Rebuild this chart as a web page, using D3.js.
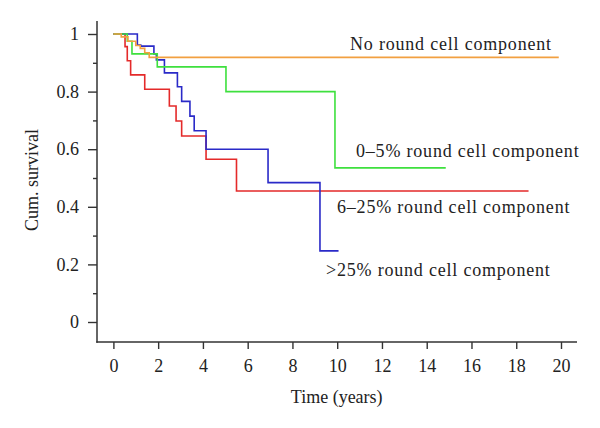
<!DOCTYPE html>
<html>
<head>
<meta charset="utf-8">
<script src="https://cdn.jsdelivr.net/npm/d3@7"></script>
<style>
  html, body { margin: 0; padding: 0; background: #fff; }
  svg { display: block; }
  text { font-family: "Liberation Serif", "Times New Roman", serif; fill: #222; }
</style>
</head>
<body>
<svg id="chart" width="600" height="428"></svg>
<script>
// ---- data ----
const seriesNames = [
  "No round cell component",
  "0\u20135% round cell component",
  "6\u201325% round cell component",
  ">25% round cell component"
];
// step times (years) and cumulative survival after each step
const orangeTimes = [0, 0.35, 0.65, 1.0, 1.2, 1.4, 1.6];
const orangeSurv  = [1, 0.99, 0.975, 0.96, 0.95, 0.935, 0.919];
const orangeEnd   = 19.9;

const greenTimes = [0, 0.62, 0.83, 1.96, 5.03, 9.9];
const greenSurv  = [1, 0.975, 0.931, 0.886, 0.800, 0.535];
const greenEnd   = 14.85;

const redTimes = [0, 0.52, 0.62, 0.77, 1.40, 2.50, 2.80, 3.05, 4.14, 5.50];
const redSurv  = [1, 0.956, 0.907, 0.858, 0.808, 0.750, 0.698, 0.646, 0.565, 0.455];
const redEnd   = 18.55;

const blueTimes = [0, 1.07, 1.22, 1.81, 1.92, 2.28, 2.86, 3.05, 3.42, 3.61, 4.14, 6.91, 9.23];
const blueSurv  = [1, 0.962, 0.958, 0.931, 0.910, 0.865, 0.817, 0.766, 0.715, 0.664, 0.600, 0.484, 0.247];
const blueEnd   = 10.06;

const xTicks = [0, 2, 4, 6, 8, 10, 12, 14, 16, 18, 20];
const yTicks = [0, 0.2, 0.4, 0.6, 0.8, 1];
const yMinorTicks = [0.1, 0.3, 0.5, 0.7, 0.9];
const xTitle = "Time (years)";
const yTitle = "Cum. survival";

// ---- layout ----
const svg = d3.select("#chart");
const x = d3.scaleLinear().domain([0, 20]).range([113.4, 561]);
const y = d3.scaleLinear().domain([0, 1]).range([322, 34]);
const axisColor = "#333";

// y axis
const gy = svg.append("g").attr("transform", "translate(97,0)");
gy.call(d3.axisLeft(y).tickValues(yTicks).tickSize(9).tickPadding(9)
  .tickFormat(d => d === 0 ? "0" : d === 1 ? "1" : d3.format(".1f")(d)));
gy.append("g").call(d3.axisLeft(y).tickValues(yMinorTicks).tickSize(4).tickFormat(""));
gy.selectAll(".domain").remove();
gy.selectAll("line").attr("stroke", axisColor).attr("stroke-width", 1.4);
gy.selectAll("text").style("font-family", "Liberation Serif").style("font-size", "18px").attr("fill", "#222");
svg.append("line").attr("x1", 97).attr("x2", 97).attr("y1", 21).attr("y2", 342.7)
  .attr("stroke", axisColor).attr("stroke-width", 1.5);

// x axis
const gx = svg.append("g").attr("transform", "translate(0,342)");
gx.call(d3.axisBottom(x).tickValues(xTicks).tickSize(7).tickPadding(10).tickFormat(d3.format("d")));
gx.selectAll(".domain").remove();
gx.selectAll("line").attr("stroke", axisColor).attr("stroke-width", 1.4);
gx.selectAll("text").style("font-family", "Liberation Serif").style("font-size", "18px").attr("fill", "#222");
svg.append("line").attr("x1", 96.3).attr("x2", 577).attr("y1", 342).attr("y2", 342)
  .attr("stroke", axisColor).attr("stroke-width", 1.5);

// titles
svg.append("text").attr("x", 336.7).attr("y", 403).attr("text-anchor", "middle")
  .style("font-size", "18px").text(xTitle);
svg.append("text").attr("transform", "translate(38,180) rotate(-90)").attr("text-anchor", "middle")
  .style("font-size", "18px").text(yTitle);

// curves
const line = d3.line().x(d => x(d[0])).y(d => y(d[1])).curve(d3.curveStepAfter);
function pts(times, surv, end) {
  const p = times.map((t, i) => [t, surv[i]]);
  p.push([end, surv[surv.length - 1]]);
  return p;
}
const curves = [
  { p: pts(orangeTimes, orangeSurv, orangeEnd), c: "#f2a040" },
  { p: pts(greenTimes, greenSurv, greenEnd), c: "#3ee03e" },
  { p: pts(redTimes, redSurv, redEnd), c: "#e42a2a" },
  { p: pts(blueTimes, blueSurv, blueEnd), c: "#2a2ac8" }
];
// draw order: red, blue, green, orange on top
[2, 3, 1, 0].forEach(i => {
  svg.append("path").attr("d", line(curves[i].p)).attr("fill", "none")
    .attr("stroke", curves[i].c).attr("stroke-width", 1.6);
});

// curve labels
const labelPos = [[350, 50], [356, 157], [337, 213], [326, 276]];
seriesNames.forEach((s, i) => {
  svg.append("text").attr("x", labelPos[i][0]).attr("y", labelPos[i][1])
    .style("font-size", "18px").style("letter-spacing", "0.8px").text(s);
});
</script>
</body>
</html>
